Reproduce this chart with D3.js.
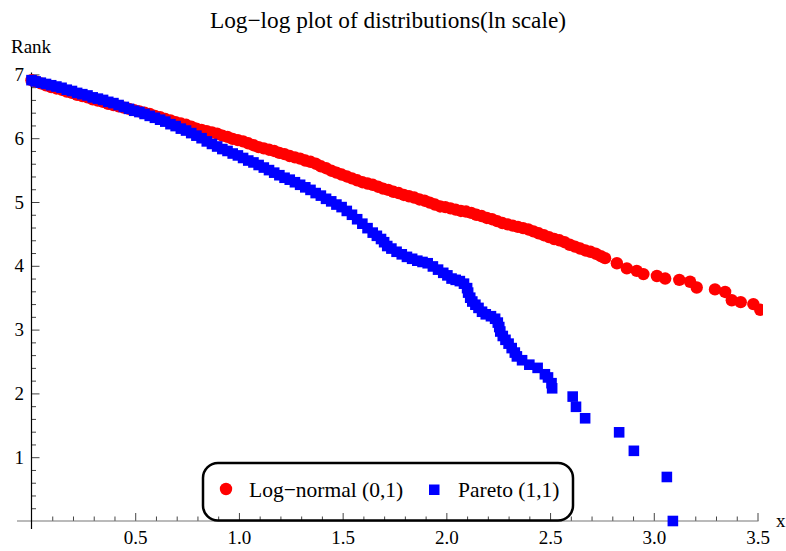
<!DOCTYPE html>
<html>
<head>
<meta charset="utf-8">
<script src="https://cdn.jsdelivr.net/npm/d3@7"></script>
<style>
  html, body { margin: 0; padding: 0; background: #fff; }
  svg { display: block; font-family: "Liberation Serif", "Times New Roman", serif; }
</style>
</head>
<body>
<svg id="chart" width="786" height="551"></svg>
<script>
// Log-normal (0,1) sample: ln x against ln rank
const lognormX = [
  0.000, 0.020, 0.045, 0.070, 0.095, 0.120, 0.145, 0.170, 0.195, 0.220,
  0.245, 0.270, 0.295, 0.320, 0.345, 0.370, 0.395, 0.420, 0.445, 0.470,
  0.495, 0.520, 0.545, 0.570, 0.595, 0.620, 0.645, 0.670, 0.695, 0.720,
  0.745, 0.770, 0.795, 0.820, 0.845, 0.870, 0.895, 0.920, 0.945, 0.970,
  0.995, 1.020, 1.045, 1.070, 1.095, 1.120, 1.145, 1.170, 1.195, 1.220,
  1.245, 1.270, 1.295, 1.320, 1.345, 1.370, 1.395, 1.420, 1.445, 1.470,
  1.495, 1.520, 1.545, 1.570, 1.595, 1.620, 1.645, 1.670, 1.695, 1.720,
  1.745, 1.770, 1.795, 1.820, 1.845, 1.870, 1.895, 1.920, 1.945, 1.970,
  1.995, 2.020, 2.045, 2.070, 2.095, 2.120, 2.145, 2.170, 2.195, 2.220,
  2.245, 2.270, 2.295, 2.320, 2.345, 2.370, 2.395, 2.420, 2.445, 2.470,
  2.495, 2.520, 2.545, 2.570, 2.595, 2.620, 2.645, 2.670, 2.695, 2.720,
  2.745, 2.765, 2.822, 2.870, 2.918, 2.950, 3.015, 3.055, 3.123, 3.175,
  3.207, 3.295, 3.344, 3.376, 3.419, 3.480, 3.513
];
const lognormY = [
  6.91, 6.89, 6.86, 6.83, 6.80, 6.78, 6.76, 6.73, 6.71, 6.68,
  6.66, 6.64, 6.61, 6.59, 6.57, 6.54, 6.52, 6.50, 6.48, 6.46,
  6.44, 6.42, 6.40, 6.38, 6.35, 6.33, 6.30, 6.28, 6.25, 6.23,
  6.21, 6.18, 6.15, 6.13, 6.11, 6.09, 6.07, 6.04, 6.02, 5.99,
  5.97, 5.95, 5.92, 5.89, 5.86, 5.84, 5.82, 5.80, 5.77, 5.75,
  5.72, 5.70, 5.68, 5.65, 5.63, 5.60, 5.56, 5.53, 5.49, 5.46,
  5.43, 5.40, 5.37, 5.34, 5.31, 5.29, 5.27, 5.24, 5.21, 5.19,
  5.16, 5.14, 5.11, 5.09, 5.07, 5.04, 5.02, 4.99, 4.96, 4.93,
  4.92, 4.90, 4.88, 4.86, 4.85, 4.83, 4.80, 4.78, 4.75, 4.73,
  4.70, 4.67, 4.65, 4.63, 4.61, 4.59, 4.57, 4.54, 4.51, 4.48,
  4.45, 4.42, 4.40, 4.37, 4.33, 4.30, 4.27, 4.24, 4.22, 4.19,
  4.15, 4.12, 4.04, 3.96, 3.92, 3.87, 3.84, 3.80, 3.78, 3.75,
  3.66, 3.63, 3.59, 3.46, 3.43, 3.40, 3.31
];

// Pareto (1,1) sample: ln x against ln rank
const paretoX = [
  0.000, 0.020, 0.045, 0.070, 0.095, 0.120, 0.145, 0.170, 0.195, 0.220,
  0.245, 0.270, 0.295, 0.320, 0.345, 0.370, 0.395, 0.420, 0.445, 0.470,
  0.495, 0.520, 0.545, 0.570, 0.595, 0.620, 0.645, 0.670, 0.695, 0.720,
  0.745, 0.770, 0.795, 0.820, 0.845, 0.870, 0.895, 0.920, 0.945, 0.970,
  0.995, 1.020, 1.045, 1.070, 1.095, 1.120, 1.145, 1.170, 1.195, 1.220,
  1.245, 1.270, 1.295, 1.320, 1.345, 1.370, 1.395, 1.420, 1.445, 1.470,
  1.495, 1.520, 1.545, 1.570, 1.595, 1.620, 1.645, 1.665, 1.685, 1.700,
  1.715, 1.735, 1.760, 1.785, 1.810, 1.835, 1.860, 1.885, 1.910, 1.935,
  1.960, 1.985, 2.005, 2.025, 2.045, 2.065, 2.085, 2.100, 2.105, 2.115,
  2.125, 2.140, 2.155, 2.172, 2.190, 2.215, 2.235, 2.248, 2.255, 2.260,
  2.272, 2.285, 2.300, 2.315, 2.330, 2.340, 2.365, 2.400, 2.440, 2.475,
  2.490, 2.507, 2.510, 2.609, 2.625, 2.669, 2.833, 2.904, 3.063, 3.092
];
const paretoY = [
  6.91, 6.89, 6.87, 6.85, 6.83, 6.81, 6.79, 6.76, 6.74, 6.71,
  6.69, 6.67, 6.64, 6.62, 6.60, 6.57, 6.55, 6.52, 6.49, 6.46,
  6.43, 6.41, 6.38, 6.35, 6.32, 6.29, 6.26, 6.22, 6.19, 6.15,
  6.12, 6.08, 6.04, 6.00, 5.95, 5.91, 5.87, 5.83, 5.80, 5.76,
  5.73, 5.69, 5.65, 5.62, 5.58, 5.54, 5.50, 5.46, 5.42, 5.38,
  5.35, 5.31, 5.27, 5.23, 5.19, 5.14, 5.10, 5.05, 5.01, 4.96,
  4.92, 4.86, 4.80, 4.73, 4.66, 4.59, 4.52, 4.47, 4.42, 4.37,
  4.31, 4.27, 4.22, 4.18, 4.14, 4.11, 4.08, 4.06, 4.04, 3.99,
  3.94, 3.89, 3.85, 3.80, 3.78, 3.76, 3.72, 3.65, 3.58, 3.50,
  3.44, 3.39, 3.34, 3.28, 3.24, 3.21, 3.17, 3.11, 3.04, 2.97,
  2.90, 2.84, 2.78, 2.71, 2.64, 2.58, 2.52, 2.45, 2.40, 2.30,
  2.25, 2.16, 2.08, 1.95, 1.79, 1.61, 1.39, 1.10, 0.69, 0.00
];

const xMajorTicks = [0.5, 1.0, 1.5, 2.0, 2.5, 3.0, 3.5];
const yMajorTicks = [1, 2, 3, 4, 5, 6, 7];
const seriesNames = ["Log\u2212normal (0,1)", "Pareto (1,1)"];
const titleText = "Log\u2212log plot of distributions(ln scale)";

const serif = "Liberation Serif, Times New Roman, serif";
const svg = d3.select("#chart");
const W = 786, H = 551;

const x = d3.scaleLinear().domain([0, 3.5]).range([31.5, 757.5]);
const y = d3.scaleLinear().domain([0, 7]).range([521, 74.4]);

const tickColor = "#444";

// Minor ticks (no labels)
const xMinor = d3.range(1, 36).map(i => i / 10).filter(v => Math.abs(v * 2 - Math.round(v * 2)) > 1e-6);
const yMinor = d3.range(1, 36).map(i => i / 5).filter(v => Math.abs(v - Math.round(v)) > 1e-6);

svg.append("g")
  .attr("transform", `translate(0,${y(0)})`)
  .call(d3.axisBottom(x).tickValues(xMinor).tickSize(-4.5).tickFormat(""))
  .call(g => g.select(".domain").remove())
  .call(g => g.selectAll("line").attr("stroke", tickColor));

svg.append("g")
  .attr("transform", `translate(${x(0)},0)`)
  .call(d3.axisLeft(y).tickValues(yMinor).tickSize(-4.5).tickFormat(""))
  .call(g => g.select(".domain").remove())
  .call(g => g.selectAll("line").attr("stroke", tickColor));

// Major ticks with labels
svg.append("g")
  .attr("transform", `translate(0,${y(0)})`)
  .call(d3.axisBottom(x).tickValues(xMajorTicks).tickSize(-8).tickPadding(10).tickFormat(d3.format(".1f")))
  .call(g => g.select(".domain").remove())
  .call(g => g.selectAll("line").attr("stroke", tickColor))
  .call(g => g.selectAll("text").attr("font-size", 19).attr("fill", "#000").attr("font-family", serif));

svg.append("g")
  .attr("transform", `translate(${x(0)},0)`)
  .call(d3.axisLeft(y).tickValues(yMajorTicks).tickSize(-8).tickPadding(7.5).tickFormat(d3.format("d")))
  .call(g => g.select(".domain").remove())
  .call(g => g.selectAll("line").attr("stroke", tickColor))
  .call(g => g.selectAll("text").attr("font-size", 19).attr("fill", "#000").attr("font-family", serif));

// Axis lines
svg.append("line")
  .attr("x1", x(0) - 14.5).attr("x2", x(3.5) + 1)
  .attr("y1", y(0)).attr("y2", y(0))
  .attr("stroke", "#777").attr("stroke-width", 1.2);
svg.append("line")
  .attr("x1", x(0)).attr("x2", x(0))
  .attr("y1", y(0) + 8).attr("y2", y(7) - 2)
  .attr("stroke", "#000").attr("stroke-width", 1.2);

// Plot region clip (right edge cuts the last log-normal points)
svg.append("clipPath").attr("id", "plotClip")
  .append("rect").attr("x", 0).attr("y", 0).attr("width", 763).attr("height", H);

const plot = svg.append("g").attr("clip-path", "url(#plotClip)");

const lognorm = lognormX.map((v, i) => [v, lognormY[i]]);
const pareto = paretoX.map((v, i) => [v, paretoY[i]]);

plot.append("g").selectAll("circle")
  .data(lognorm).join("circle")
  .attr("cx", d => x(d[0])).attr("cy", d => y(d[1]))
  .attr("r", 6.2).attr("fill", "#ff0000");

const sq = 10.6;
plot.append("g").selectAll("rect")
  .data(pareto).join("rect")
  .attr("x", d => x(d[0]) - sq / 2).attr("y", d => y(d[1]) - sq / 2)
  .attr("width", sq).attr("height", sq).attr("fill", "#0000ff");

// Title and axis labels
svg.append("text")
  .attr("x", 388).attr("y", 28).attr("text-anchor", "middle")
  .attr("font-family", serif).attr("font-size", 23.3).text(titleText);

svg.append("text")
  .attr("x", 11).attr("y", 52.5).attr("font-family", serif).attr("font-size", 19).text("Rank");

svg.append("text")
  .attr("x", 776).attr("y", 527).attr("font-family", serif).attr("font-size", 19).text("x");

// Legend
const legend = svg.append("g").attr("font-family", serif);
legend.append("rect")
  .attr("x", 203).attr("y", 463).attr("width", 370).attr("height", 57.5)
  .attr("rx", 15).attr("ry", 15)
  .attr("fill", "none").attr("stroke", "#000").attr("stroke-width", 2.5);

legend.append("circle").attr("cx", 226).attr("cy", 489).attr("r", 6.2).attr("fill", "#ff0000");
legend.append("text").attr("x", 249).attr("y", 497).attr("font-size", 21.5).text(seriesNames[0]);
legend.append("rect").attr("x", 429).attr("y", 484.5).attr("width", 10.5).attr("height", 10.5).attr("fill", "#0000ff");
legend.append("text").attr("x", 458).attr("y", 497).attr("font-size", 21.5).text(seriesNames[1]);
</script>
</body>
</html>
